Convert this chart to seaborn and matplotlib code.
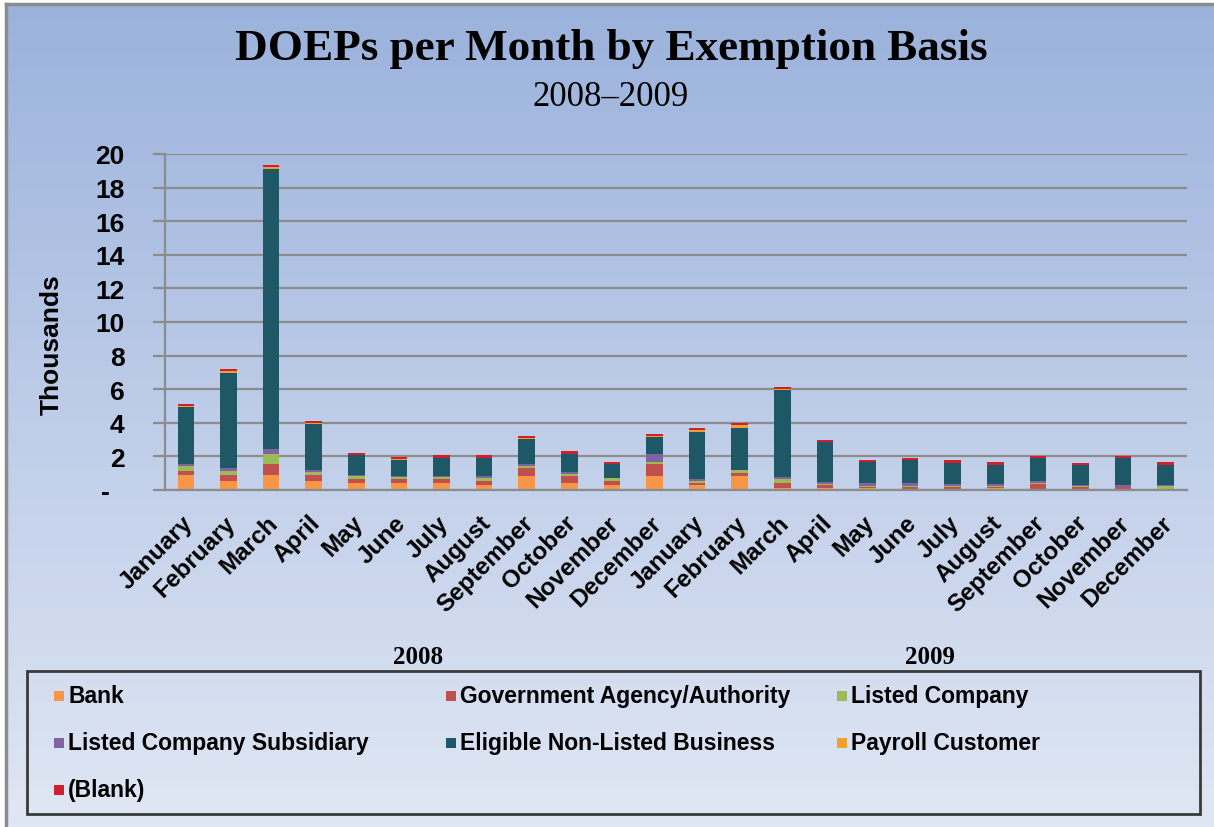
import numpy as np
import pandas as pd
import matplotlib.pyplot as plt
import matplotlib.transforms as mtransforms
from matplotlib.patches import Rectangle
from matplotlib.lines import Line2D
import seaborn as sns

# data (thousands of DOEPs)
months = ['January', 'February', 'March', 'April', 'May', 'June', 'July',
          'August', 'September', 'October', 'November', 'December'] * 2
years = ['2008', '2009']

bank = [0.92, 0.54, 0.92, 0.54, 0.40, 0.40, 0.40, 0.28, 0.82, 0.42, 0.28, 0.82,
        0.30, 0.82, 0.14, 0.12, 0.12, 0.08, 0.06, 0.14, 0.04, 0.04, 0.02, 0.02]
gov = [0.24, 0.38, 0.62, 0.38, 0.26, 0.26, 0.26, 0.28, 0.48, 0.40, 0.28, 0.72,
       0.12, 0.22, 0.26, 0.20, 0.06, 0.10, 0.10, 0.04, 0.30, 0.12, 0.14, 0.02]
listed = [0.26, 0.24, 0.62, 0.14, 0.16, 0.14, 0.14, 0.14, 0.12, 0.12, 0.14, 0.14,
          0.12, 0.14, 0.26, 0.02, 0.04, 0.08, 0.08, 0.08, 0.06, 0.06, 0.02, 0.20]
subsid = [0.10, 0.14, 0.28, 0.12, 0.10, 0.06, 0.04, 0.12, 0.10, 0.12, 0.04, 0.48,
          0.12, 0.04, 0.14, 0.16, 0.18, 0.14, 0.14, 0.10, 0.12, 0.10, 0.14, 0.06]
eligible = [3.42, 5.66, 16.65, 2.76, 1.14, 0.94, 1.06, 1.08, 1.54, 1.08, 0.80, 1.02,
            2.80, 2.50, 5.18, 2.34, 1.26, 1.36, 1.24, 1.14, 1.36, 1.14, 1.56, 1.20]
payroll = [0.05, 0.10, 0.12, 0.06, 0.03, 0.02, 0.02, 0.02, 0.04, 0.02, 0.02, 0.02,
           0.12, 0.12, 0.02, 0.01, 0.01, 0.01, 0.01, 0.01, 0.01, 0.01, 0.01, 0.01]
blank = [0.10, 0.16, 0.16, 0.10, 0.12, 0.14, 0.14, 0.14, 0.14, 0.14, 0.12, 0.12,
         0.12, 0.12, 0.12, 0.14, 0.12, 0.16, 0.14, 0.14, 0.14, 0.14, 0.14, 0.14]

series = ['Bank', 'Government Agency/Authority', 'Listed Company',
          'Listed Company Subsidiary', 'Eligible Non-Listed Business',
          'Payroll Customer', '(Blank)']
colors = ['#F79646', '#C0504D', '#9BBB59', '#8064A2', '#1E5866', '#F0A030', '#D0202E']

rows = []
for name, vals in zip(series, [bank, gov, listed, subsid, eligible, payroll, blank]):
    for i, v in enumerate(vals):
        rows.append({'pos': i, 'basis': name, 'thousands': v})
df = pd.DataFrame(rows)

W, H = 1214, 828
fig = plt.figure(figsize=(W / 100, H / 100), dpi=100)

# gradient background
bg = fig.add_axes([6 / W, 0, 1 - 6 / W, 1 - 5 / H], zorder=-10)
top = np.array([155, 178, 220]) / 255
bottom = np.array([224, 231, 244]) / 255
t = np.linspace(0, 1, 256)[:, None]
grad = top * (1 - t) + bottom * t
bg.imshow(grad[:, None, :], aspect='auto', extent=[0, 1, 0, 1])
bg.axis('off')
fig.add_artist(Line2D([6 / W, 6 / W], [0, 1 - 5 / H], color='#8c8c8c', lw=2.5,
                      transform=fig.transFigure))
fig.add_artist(Line2D([6 / W, 1], [1 - 5 / H, 1 - 5 / H], color='#8c8c8c', lw=2.5,
                      transform=fig.transFigure))

ax = fig.add_axes([164.7 / W, 1 - 491 / H, (1187 - 164.7) / W, (491 - 155) / H])
ax.set_facecolor('none')

sns.histplot(data=df, x='pos', weights='thousands', hue='basis',
             hue_order=series[::-1], palette=dict(zip(series, colors)),
             multiple='stack', discrete=True, shrink=0.39, alpha=1,
             linewidth=0, legend=False, ax=ax)

ax.set_xlim(-0.5, 23.5)
ax.set_ylim(0, 20)
ax.set_yticks(range(0, 21, 2))
ax.set_yticklabels(['-  '] + [str(v) for v in range(2, 21, 2)],
                   fontsize=19, fontweight='bold', family='Liberation Sans')
ax.tick_params(axis='y', length=9, width=1.6, color='#8c8c8c', pad=20)
ax.set_xticks(range(24))
ax.set_xticklabels(months, rotation=45, ha='right', rotation_mode='anchor',
                   fontsize=17.5, fontweight='bold', family='Liberation Sans')
ax.tick_params(axis='x', length=0, pad=15)
offset = mtransforms.ScaledTranslation(-5 / 100, 0, fig.dpi_scale_trans)
for lab in ax.get_xticklabels():
    lab.set_transform(lab.get_transform() + offset)

ax.yaxis.grid(True, color='#8c8c8c', lw=1.6)
ax.set_axisbelow(True)
for s in ['top', 'right']:
    ax.spines[s].set_visible(False)
for s in ['left', 'bottom']:
    ax.spines[s].set_color('#8c8c8c')
    ax.spines[s].set_linewidth(1.6)
ax.set_xlabel('')
ax.set_ylabel('')

# titles and labels
fig.text(611 / W, 1 - 49 / H, 'DOEPs per Month by Exemption Basis', ha='center',
         va='center', fontsize=32.5, fontweight='bold', family='Liberation Serif')
fig.text(611 / W, 1 - 97 / H, '2008\u20132009', ha='center', va='center',
         fontsize=25, family='Liberation Serif')
fig.text(52 / W, 1 - 345 / H, 'Thousands', rotation=90, ha='center', va='center',
         fontsize=19, fontweight='bold', family='Liberation Sans')
for yr, xp in zip(years, [418, 930]):
    fig.text(xp / W, 1 - 658 / H, yr, ha='center', va='center', fontsize=18,
             fontweight='bold', family='Liberation Serif')

# legend box
fig.add_artist(Rectangle((27 / W, 1 - 815 / H), (1200 - 27) / W, (815 - 672) / H,
                         fill=False, edgecolor='#3a3a3a', lw=2,
                         transform=fig.transFigure))
col_x = [54, 446, 837]
row_y = [697, 744, 791]
for i, (name, c) in enumerate(zip(series, colors)):
    x = col_x[i % 3]
    y = row_y[i // 3]
    fig.add_artist(Rectangle((x / W, 1 - (y + 5) / H), 10 / W, 10 / H,
                             facecolor=c, edgecolor='none', transform=fig.transFigure))
    fig.text((x + 14) / W, 1 - y / H, name, ha='left', va='center', fontsize=16.5,
             fontweight='bold', family='Liberation Sans')

plt.savefig('out.png', dpi=100)
